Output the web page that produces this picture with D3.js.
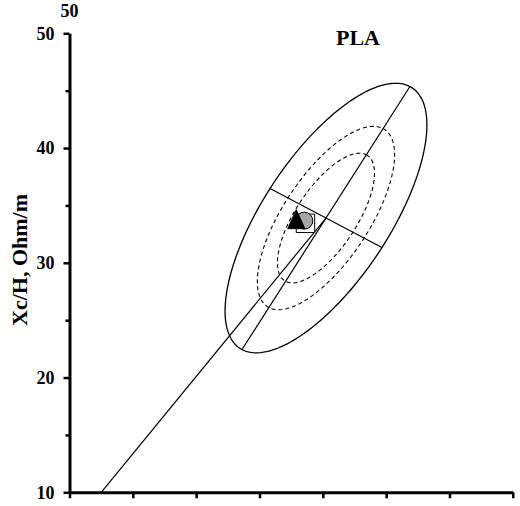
<!DOCTYPE html>
<html>
<head>
<meta charset="utf-8">
<script src="https://cdn.jsdelivr.net/npm/d3@7"></script>
<style>
  html, body { margin: 0; padding: 0; background: #fff; }
  svg { display: block; }
  text { font-family: "Liberation Serif", "Times New Roman", serif; font-weight: bold; fill: #000; }
</style>
</head>
<body>
<svg id="chart" width="520" height="506"></svg>
<script>
// Axis ticks (R/H on x, Xc/H on y)
const xTicks = [0, 100, 200, 300, 400, 500, 600, 700];
const yTicks = [10, 20, 30, 40, 50];
const yMinorTicks = [15, 25, 35, 45];

// Tolerance ellipses: mean vector and conjugate semi-diameters of the 95% ellipse (R/H, Xc/H)
const ellipseCenter = [405.0, 33.9];
const majorSemiAxis = [132.6, 11.46];
const minorSemiAxis = [88.4, -2.57];
const toleranceLevels = [0.95, 0.75, 0.50];

// Reference vector running up to the mean
const vectorStart = [50.1, 10.0];
const vectorEnd = ellipseCenter;

// Group means
const groupR = [372.6, 370.8, 358.1];
const groupXc = [33.44, 33.67, 33.53];

const svg = d3.select("#chart");
const x = d3.scaleLinear().domain([0, 700]).range([69.5, 512.8]);
const y = d3.scaleLinear().domain([10, 50]).range([492.3, 33.3]);

// Ellipse outline from conjugate semi-diameters, scaled per tolerance level
const chi = p => Math.sqrt(-2 * Math.log(1 - p));
function ellipsePoints(k) {
  return d3.range(0, 361, 2).map(deg => {
    const t = deg * Math.PI / 180;
    return [
      ellipseCenter[0] + k * (Math.cos(t) * majorSemiAxis[0] + Math.sin(t) * minorSemiAxis[0]),
      ellipseCenter[1] + k * (Math.cos(t) * majorSemiAxis[1] + Math.sin(t) * minorSemiAxis[1])
    ];
  });
}
const line = d3.line().x(d => x(d[0])).y(d => y(d[1]));

const plot = svg.append("g");
toleranceLevels.forEach(p => {
  const k = chi(p) / chi(0.95);
  plot.append("path")
    .attr("d", line(ellipsePoints(k)))
    .attr("fill", "none")
    .attr("stroke", "#000")
    .attr("stroke-width", p === 0.95 ? 1.3 : 1.1)
    .attr("stroke-dasharray", p === 0.95 ? null : "4,3");
});

// Axes of the 95% ellipse
[majorSemiAxis, minorSemiAxis].forEach(v => {
  plot.append("path")
    .attr("d", line([
      [ellipseCenter[0] - v[0], ellipseCenter[1] - v[1]],
      [ellipseCenter[0] + v[0], ellipseCenter[1] + v[1]]
    ]))
    .attr("stroke", "#000").attr("stroke-width", 1.2).attr("fill", "none");
});

// Vector line
plot.append("path")
  .attr("d", line([vectorStart, vectorEnd]))
  .attr("stroke", "#000").attr("stroke-width", 1.2).attr("fill", "none");

// Group mean markers: square, circle, triangle
const narrowTriangle = {
  draw(ctx, size) {
    const h = Math.sqrt(size);
    const w = h * 0.9;
    ctx.moveTo(0, -2 * h / 3);
    ctx.lineTo(w / 2, h / 3);
    ctx.lineTo(-w / 2, h / 3);
    ctx.closePath();
  }
};
const markerStyles = [
  { type: d3.symbolSquare, size: 340, fill: "#fff", stroke: "#000" },
  { type: d3.symbolCircle, size: 225, fill: "#a6a6a6", stroke: "#000" },
  { type: narrowTriangle, size: 361, fill: "#000", stroke: "#000" }
];
groupR.forEach((r, i) => {
  const s = markerStyles[i];
  plot.append("path")
    .attr("d", d3.symbol().type(s.type).size(s.size)())
    .attr("transform", `translate(${x(r)},${y(groupXc[i])})`)
    .attr("fill", s.fill)
    .attr("stroke", s.stroke)
    .attr("stroke-width", 1);
});

// Y axis
const yAxis = svg.append("g").attr("transform", `translate(${x(0)},0)`)
  .call(d3.axisLeft(y).tickValues(yTicks).tickSize(6).tickSizeOuter(0).tickPadding(9).tickFormat(d3.format("d")));
svg.append("g").attr("transform", `translate(${x(0)},0)`)
  .call(d3.axisLeft(y).tickValues(yMinorTicks).tickSize(4).tickSizeOuter(0).tickFormat(""))
  .call(g => g.select(".domain").remove())
  .selectAll("line").attr("stroke-width", 2.5);
yAxis.select(".domain").attr("stroke-width", 3);
yAxis.selectAll(".tick line").attr("stroke-width", 2.5);
yAxis.selectAll("text").style("font-size", "18px").style("font-family", "'Liberation Serif', serif").style("font-weight", "bold");

// X axis
const xAxis = svg.append("g").attr("transform", `translate(0,${y(10)})`)
  .call(d3.axisBottom(x).tickValues(xTicks).tickSize(6).tickSizeOuter(0).tickFormat(""));
xAxis.select(".domain").attr("stroke-width", 3);
xAxis.selectAll(".tick line").attr("stroke-width", 2.5);

// Labels
svg.append("text").attr("x", x(0)).attr("y", 17).attr("text-anchor", "middle")
  .style("font-size", "18px").text("50");
svg.append("text").attr("x", 358).attr("y", 45).attr("text-anchor", "middle")
  .style("font-size", "22px").text("PLA");
svg.append("text")
  .attr("transform", "translate(27,260) rotate(-90)")
  .attr("text-anchor", "middle")
  .style("font-size", "22px").text("Xc/H, Ohm/m");
</script>
</body>
</html>
